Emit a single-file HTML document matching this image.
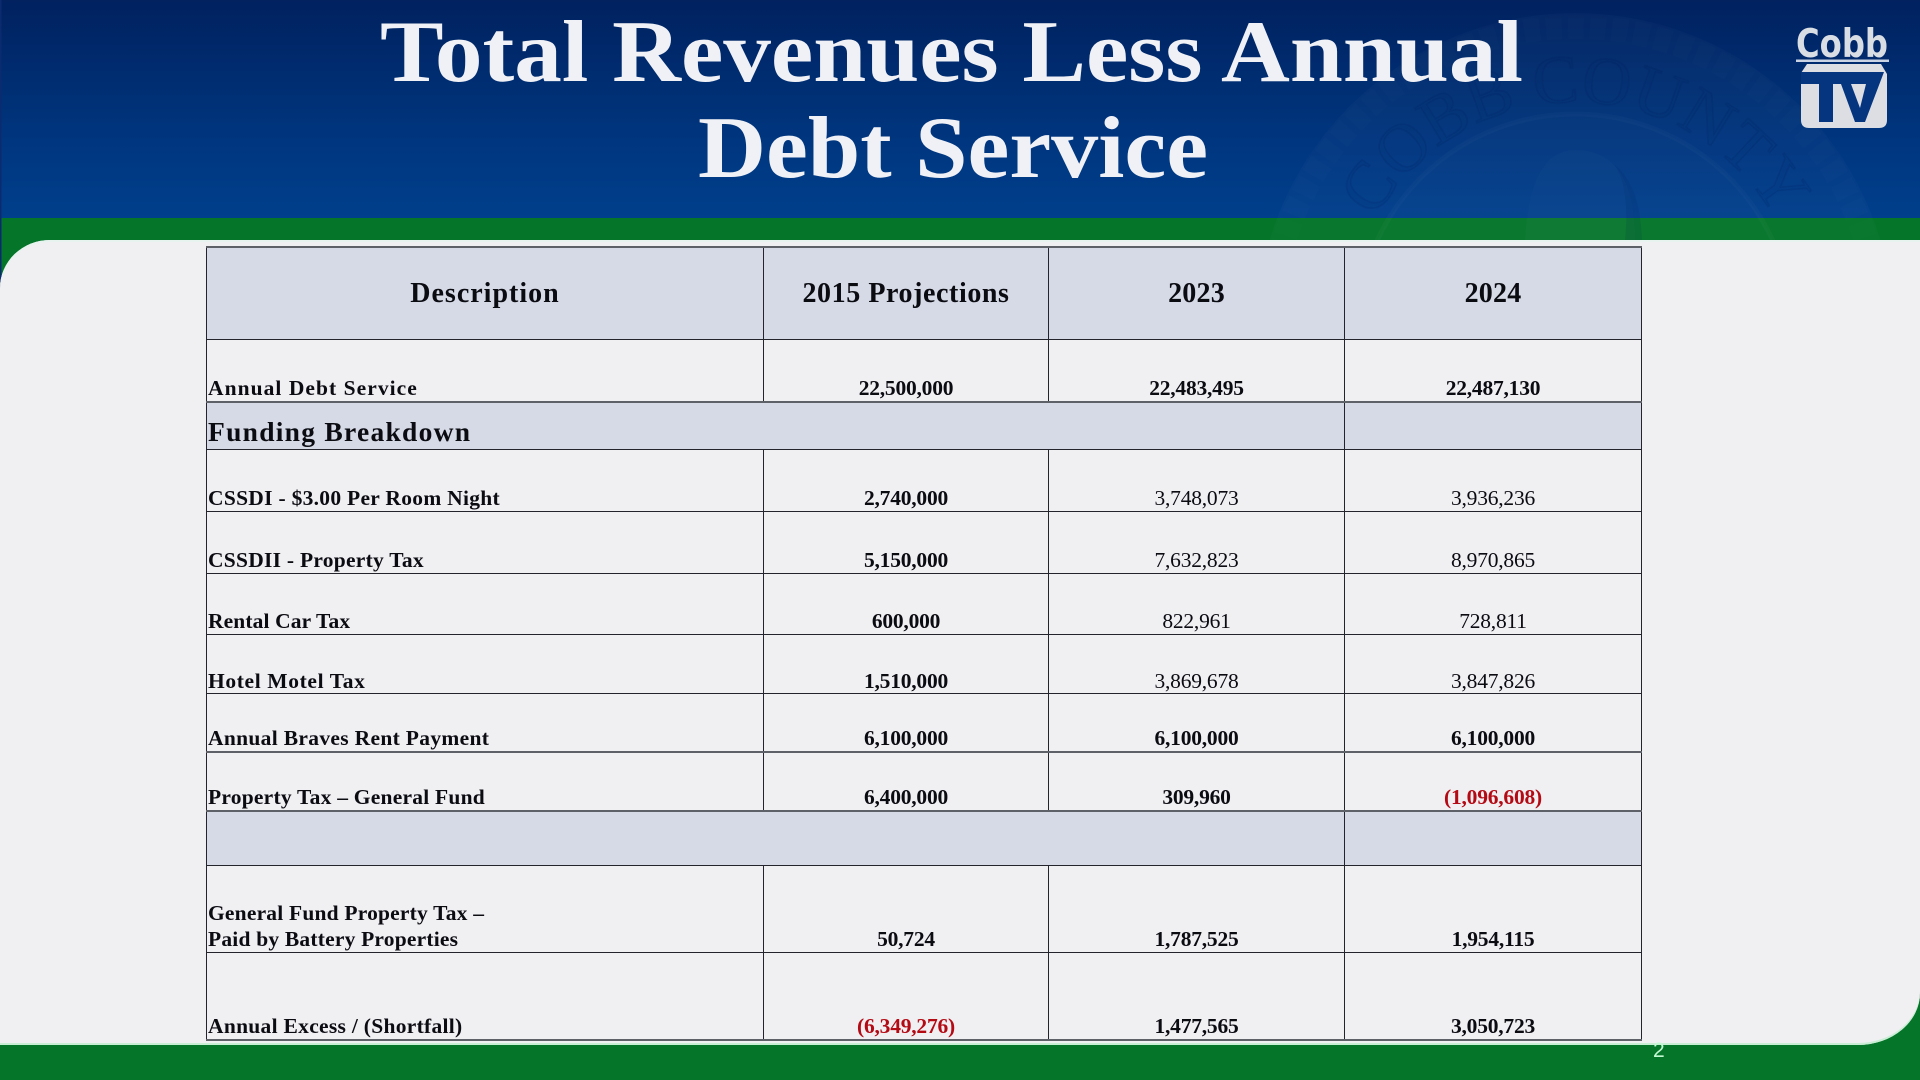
<!DOCTYPE html>
<html lang="en">
<head>
<meta charset="utf-8">
<title>Total Revenues Less Annual Debt Service</title>
<style>
html,body{margin:0;padding:0;width:1920px;height:1080px;overflow:hidden;background:#05752a;}
body{position:relative;font-family:"Liberation Serif",serif;color:#0b0b12;}
#hdr{position:absolute;left:0;top:0;width:1920px;height:218px;background:linear-gradient(180deg,#01215f 0%,#002b6e 30%,#00367f 65%,#003f8c 100%);}
#grn{position:absolute;left:0;top:218px;width:1920px;height:862px;background:#05752a;}
#panel{position:absolute;left:0;top:240px;width:1920px;height:805px;background:#f0eff2;border-radius:50px 0 62px 0/48px 0 52px 0;box-shadow:inset 0 2px 0 #e6f3ee,inset 0 -2px 0 #c8eed4;}
#art{position:absolute;left:0;top:0;width:1920px;height:1080px;}
#titleart{position:absolute;left:0;top:0;width:1920px;height:240px;}
table{position:absolute;left:206px;top:246px;border-collapse:collapse;table-layout:fixed;width:1435px;}
td{border:1.5px solid #24242c;padding:0 0 1px 1px;vertical-align:bottom;font-size:21.5px;line-height:24px;letter-spacing:.3px;white-space:nowrap;overflow:hidden;}
td.n{text-align:center;padding-left:0;font-weight:400;letter-spacing:-.22px;}
td.b{font-weight:700;}
td.l{font-weight:700;}
td.r{color:#b40a14;font-weight:700;}
tr.hm td{padding-bottom:0;}
.sh{background:#d6dae6;}
tr.g td{border-bottom:2px solid #5f6169;}
tr.head td{vertical-align:middle;text-align:center;font-size:28px;font-weight:700;letter-spacing:.2px;padding:2px 0 0 0;line-height:32px;border-top:2px solid #5f6169;}
td.fb{font-size:27.5px;font-weight:700;letter-spacing:1.27px;padding-bottom:1px;line-height:32px;}
#page{position:absolute;left:1653px;top:1039px;font:21px "Liberation Sans",sans-serif;color:#c4fad3;}
</style>
</head>
<body>
<div id="hdr"></div>
<div id="grn"></div>
<svg id="art" viewBox="0 0 1920 1080">
  <rect x="0" y="0" width="1.5" height="290" fill="#0b2a70"/>
  <g>
    <circle cx="1575" cy="332" r="319" fill="#ffffff" fill-opacity=".018"/>
    <circle cx="1575" cy="332" r="305" fill="none" stroke="#ffffff" stroke-opacity=".012" stroke-width="24" stroke-dasharray="16 6"/>
    <circle cx="1575" cy="332" r="218" fill="#ffffff" fill-opacity=".01" stroke="#ffffff" stroke-opacity=".025" stroke-width="5"/>
    <path d="M1525 240Q1530 150 1575 150Q1635 150 1635 240Z" fill="#ffffff" fill-opacity=".015"/>
    <path d="M1625 240Q1630 190 1615 165Q1640 185 1642 240Z" fill="#001f5c" fill-opacity=".10"/>
    <path id="seal-arc" d="M1359 253A230 230 0 0 1 1791 253" fill="none"/>
    <text font-family="Liberation Serif,serif" font-size="68" fill="#001f5c" fill-opacity=".05" stroke="#001f5c" stroke-opacity=".14" stroke-width="1.6" text-anchor="middle"><textPath href="#seal-arc" startOffset="50%">COBB COUNTY</textPath></text>
  </g>
</svg>
<svg id="titleart" viewBox="0 0 1920 240">
  <g font-family="Liberation Serif,serif" font-weight="700" font-size="88" fill="#f0f1f6">
    <text x="380" y="81" textLength="1143" lengthAdjust="spacingAndGlyphs">Total Revenues Less Annual</text>
    <text x="698" y="177" textLength="510" lengthAdjust="spacingAndGlyphs">Debt Service</text>
  </g>
  <g>
    <text x="1796" y="57" font-family="DejaVu Sans,sans-serif" font-weight="700" font-size="39" fill="#d9dde4" textLength="92" lengthAdjust="spacingAndGlyphs">Cobb</text>
    <rect x="1796" y="59.5" width="93" height="2.5" fill="#c9d3e4"/>
    <path d="M1807 64H1881L1887 74V120Q1887 128 1879 128H1809Q1801 128 1801 120V73Z" fill="#dcdee4"/>
    <path d="M1801 72H1884L1865 122H1855L1841 84H1833V122H1819V84H1801Z" fill="#06357f"/>
    <path d="M1851 84H1866L1860 108Z" fill="#dcdee4"/>
  </g>
</svg>
<div id="panel"></div>

<table>
  <colgroup><col style="width:557px"><col style="width:285px"><col style="width:296px"><col style="width:297px"></colgroup>
  <tr class="head sh" style="height:92px">
    <td style="letter-spacing:1px">Description</td>
    <td style="letter-spacing:.58px">2015 Projections</td>
    <td>2023</td>
    <td>2024</td>
  </tr>
  <tr class="g" style="height:63px">
    <td class="l" style="letter-spacing:1.05px">Annual Debt Service</td>
    <td class="n b">22,500,000</td>
    <td class="n b">22,483,495</td>
    <td class="n b">22,487,130</td>
  </tr>
  <tr class="sh" style="height:47px">
    <td class="fb" colspan="3">Funding Breakdown</td>
    <td></td>
  </tr>
  <tr style="height:62px">
    <td class="l" style="letter-spacing:.29px">CSSDI - $3.00 Per Room Night</td>
    <td class="n b">2,740,000</td>
    <td class="n">3,748,073</td>
    <td class="n">3,936,236</td>
  </tr>
  <tr style="height:62px">
    <td class="l" style="letter-spacing:.26px">CSSDII - Property Tax</td>
    <td class="n b">5,150,000</td>
    <td class="n">7,632,823</td>
    <td class="n">8,970,865</td>
  </tr>
  <tr style="height:61px">
    <td class="l" style="letter-spacing:.12px">Rental Car Tax</td>
    <td class="n b">600,000</td>
    <td class="n">822,961</td>
    <td class="n">728,811</td>
  </tr>
  <tr class="hm" style="height:59px">
    <td class="l" style="letter-spacing:.63px">Hotel Motel Tax</td>
    <td class="n b">1,510,000</td>
    <td class="n">3,869,678</td>
    <td class="n">3,847,826</td>
  </tr>
  <tr class="g" style="height:59px">
    <td class="l" style="letter-spacing:.32px">Annual Braves Rent Payment</td>
    <td class="n b">6,100,000</td>
    <td class="n b">6,100,000</td>
    <td class="n b">6,100,000</td>
  </tr>
  <tr class="g" style="height:59px">
    <td class="l" style="letter-spacing:.23px">Property Tax – General Fund</td>
    <td class="n b">6,400,000</td>
    <td class="n b">309,960</td>
    <td class="n r">(1,096,608)</td>
  </tr>
  <tr class="sh" style="height:54px">
    <td colspan="3"></td>
    <td></td>
  </tr>
  <tr style="height:87px">
    <td class="l" style="line-height:26px;letter-spacing:.2px;padding-bottom:0">General Fund Property Tax –<br>Paid by Battery Properties</td>
    <td class="n b">50,724</td>
    <td class="n b">1,787,525</td>
    <td class="n b">1,954,115</td>
  </tr>
  <tr class="g" style="height:88px">
    <td class="l" style="letter-spacing:.29px">Annual Excess / (Shortfall)</td>
    <td class="n r">(6,349,276)</td>
    <td class="n b">1,477,565</td>
    <td class="n b">3,050,723</td>
  </tr>
</table>
<div id="page">2</div>
</body>
</html>
